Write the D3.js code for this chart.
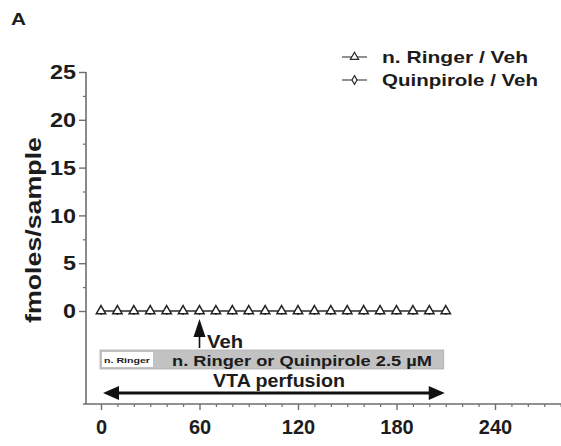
<!DOCTYPE html>
<html>
<head>
<meta charset="utf-8">
<script src="https://cdn.jsdelivr.net/npm/d3@7"></script>
<style>
  html, body { margin: 0; padding: 0; background: #fff; }
  svg { display: block; font-family: "Liberation Sans", Arial, sans-serif; }
</style>
</head>
<body>
<svg id="chart" width="561" height="446"></svg>
<script>
// Sampling times (min) and dopamine levels (fmoles/sample)
const times = [0, 10, 20, 30, 40, 50, 60, 70, 80, 90, 100, 110, 120, 130, 140, 150, 160, 170, 180, 190, 200, 210];
const ringerVeh = [0, 0, 0, 0, 0, 0, 0, 0, 0, 0, 0, 0, 0, 0, 0, 0, 0, 0, 0, 0, 0, 0];
const quinpiroleVeh = [0, 0, 0, 0, 0, 0, 0, 0, 0, 0, 0, 0, 0, 0, 0, 0, 0, 0, 0, 0, 0, 0];
const seriesNames = ["n. Ringer / Veh", "Quinpirole / Veh"];
const xMajorTicks = [0, 60, 120, 180, 240];
const xMinorTicks = [10, 20, 30, 40, 50, 70, 80, 90, 100, 110, 130, 140, 150, 160, 170, 190, 200, 210, 220, 230, 250, 260, 270, 280];
const yMajorTicks = [0, 5, 10, 15, 20, 25];
const yMinorTicks = [2.5, 7.5, 12.5, 17.5, 22.5];
const vehTime = 60;
const perfusionRange = [0, 210];

const svg = d3.select("#chart");
const ink = "#1c1c1c";
const axisGray = "#6e6e6e";

const x = d3.scaleLinear().domain([0, 240]).range([101, 495]);
const y = d3.scaleLinear().domain([0, 25]).range([311, 72]);

const axisX = 86, axisBottomY = 404;

// Panel letter
svg.append("text").attr("x", 11).attr("y", 25)
  .attr("font-size", 17).attr("font-weight", "bold").attr("fill", ink)
  .attr("textLength", 15).attr("lengthAdjust", "spacingAndGlyphs").text("A");

// ---- Y axis ----
svg.append("line").attr("x1", axisX).attr("x2", axisX)
  .attr("y1", y(25)).attr("y2", axisBottomY)
  .attr("stroke", axisGray).attr("stroke-width", 1.6);

const yAxis = svg.append("g").attr("transform", `translate(${axisX},0)`)
  .call(d3.axisLeft(y).tickValues(yMajorTicks).tickSize(7).tickPadding(3).tickFormat(d3.format("d")));
yAxis.select(".domain").remove();
yAxis.selectAll(".tick line").attr("stroke", axisGray).attr("stroke-width", 1.4);
yAxis.selectAll(".tick text")
  .attr("font-size", 21).attr("font-weight", "bold").attr("fill", ink)
  .attr("font-family", "Liberation Sans, Arial, sans-serif")
  .attr("textLength", d => String(d).length * 13)
  .attr("lengthAdjust", "spacingAndGlyphs");

const yMinor = svg.append("g").attr("transform", `translate(${axisX},0)`)
  .call(d3.axisLeft(y).tickValues(yMinorTicks).tickSize(3).tickFormat(""));
yMinor.select(".domain").remove();
yMinor.selectAll(".tick line").attr("stroke", axisGray).attr("stroke-width", 1.2);

// Y title
svg.append("text")
  .attr("transform", `translate(41,230) rotate(-90)`)
  .attr("text-anchor", "middle")
  .attr("font-size", 22).attr("font-weight", "bold").attr("fill", ink)
  .attr("textLength", 186).attr("lengthAdjust", "spacingAndGlyphs")
  .text("fmoles/sample");

// ---- X axis ----
svg.append("line").attr("x1", 83).attr("x2", 561)
  .attr("y1", axisBottomY).attr("y2", axisBottomY)
  .attr("stroke", axisGray).attr("stroke-width", 1.6);

const xAxis = svg.append("g").attr("transform", `translate(0,${axisBottomY})`)
  .call(d3.axisBottom(x).tickValues(xMajorTicks).tickSize(6).tickPadding(10).tickFormat(d3.format("d")));
xAxis.select(".domain").remove();
xAxis.selectAll(".tick line").attr("stroke", axisGray).attr("stroke-width", 1.4);
xAxis.selectAll(".tick text")
  .attr("font-size", 20).attr("font-weight", "bold").attr("fill", ink)
  .attr("font-family", "Liberation Sans, Arial, sans-serif");

const xMinor = svg.append("g").attr("transform", `translate(0,${axisBottomY})`)
  .call(d3.axisBottom(x).tickValues(xMinorTicks).tickSize(3).tickFormat(""));
xMinor.select(".domain").remove();
xMinor.selectAll(".tick line").attr("stroke", axisGray).attr("stroke-width", 1.2);

// ---- Data ----
const line = d3.line().x((d, i) => x(times[i])).y(d => y(d));

svg.append("path").datum(quinpiroleVeh).attr("d", line)
  .attr("fill", "none").attr("stroke", "#555").attr("stroke-width", 1.3);
svg.append("path").datum(ringerVeh).attr("d", line)
  .attr("fill", "none").attr("stroke", "#555").attr("stroke-width", 1.3);

const diamond = d3.symbol().type(d3.symbolDiamond).size(10);
const triangle = d3.symbol().type(d3.symbolTriangle).size(38);

svg.append("g").selectAll("path").data(quinpiroleVeh).join("path")
  .attr("d", diamond)
  .attr("transform", (d, i) => `translate(${x(times[i])},${y(d) + 1})`)
  .attr("fill", "#fff").attr("stroke", "#333").attr("stroke-width", 1);

svg.append("g").selectAll("path").data(ringerVeh).join("path")
  .attr("d", triangle)
  .attr("transform", (d, i) => `translate(${x(times[i])},${y(d)})`)
  .attr("fill", "#fff").attr("stroke", "#222").attr("stroke-width", 1.5);

// ---- Legend ----
const legendRows = [
  { name: seriesNames[0], sym: d3.symbolTriangle, size: 30, y: 57, ty: 63, len: 146 },
  { name: seriesNames[1], sym: d3.symbolDiamond, size: 22, y: 80, ty: 86, len: 156 }
];
const lg = svg.append("g");
legendRows.forEach(r => {
  lg.append("line").attr("x1", 342).attr("x2", 367).attr("y1", r.y).attr("y2", r.y)
    .attr("stroke", "#555").attr("stroke-width", 1.3);
  lg.append("path").attr("d", d3.symbol().type(r.sym).size(r.size))
    .attr("transform", `translate(354.5,${r.y})`)
    .attr("fill", "#fff").attr("stroke", "#2a2a2a").attr("stroke-width", 1.2);
  lg.append("text").attr("x", 382).attr("y", r.ty)
    .attr("font-size", 17).attr("font-weight", "bold").attr("fill", ink)
    .attr("textLength", r.len).attr("lengthAdjust", "spacingAndGlyphs")
    .text(r.name);
});

// ---- Vehicle injection arrow ----
const vx = x(vehTime);
svg.append("path")
  .attr("d", `M${vx},${y(0) + 8} L${vx - 6},${y(0) + 26} L${vx + 6},${y(0) + 26} Z`)
  .attr("fill", "#111");
svg.append("line").attr("x1", vx).attr("x2", vx)
  .attr("y1", y(0) + 24).attr("y2", 348)
  .attr("stroke", "#111").attr("stroke-width", 1.6);
svg.append("text").attr("x", 207).attr("y", 348)
  .attr("font-size", 19).attr("font-weight", "bold").attr("fill", ink)
  .attr("textLength", 36).attr("lengthAdjust", "spacingAndGlyphs")
  .text("Veh");

// ---- Treatment bar ----
const barX0 = x(perfusionRange[0]) - 1, barX1 = x(perfusionRange[1]) - 2;
svg.append("rect").attr("x", barX0).attr("y", 350).attr("width", barX1 - barX0).attr("height", 19)
  .attr("fill", "#c2c2c2").attr("stroke", "#b0b0b0").attr("stroke-width", 0.8);
svg.append("rect").attr("x", barX0 + 2).attr("y", 352).attr("width", 51).attr("height", 15)
  .attr("fill", "#fff");
svg.append("text").attr("x", barX0 + 4).attr("y", 363)
  .attr("font-size", 8).attr("font-weight", "bold").attr("fill", ink)
  .attr("textLength", 46).attr("lengthAdjust", "spacingAndGlyphs")
  .text("n. Ringer");
svg.append("text").attr("x", 172).attr("y", 366)
  .attr("font-size", 15).attr("font-weight", "bold").attr("fill", ink)
  .attr("textLength", 260).attr("lengthAdjust", "spacingAndGlyphs")
  .text("n. Ringer or Quinpirole 2.5 µM");

// ---- VTA perfusion double arrow ----
svg.append("text").attr("x", 213).attr("y", 387)
  .attr("font-size", 19).attr("font-weight", "bold").attr("fill", ink)
  .attr("textLength", 132).attr("lengthAdjust", "spacingAndGlyphs")
  .text("VTA perfusion");
const ax0 = x(perfusionRange[0]) + 2, ax1 = x(perfusionRange[1]) - 1, ay = 393;
svg.append("line").attr("x1", ax0 + 10).attr("x2", ax1 - 10).attr("y1", ay).attr("y2", ay)
  .attr("stroke", "#111").attr("stroke-width", 3);
svg.append("path")
  .attr("d", `M${ax0},${ay} L${ax0 + 16},${ay - 7} L${ax0 + 16},${ay + 7} Z M${ax1},${ay} L${ax1 - 16},${ay - 7} L${ax1 - 16},${ay + 7} Z`)
  .attr("fill", "#111");
</script>
</body>
</html>
